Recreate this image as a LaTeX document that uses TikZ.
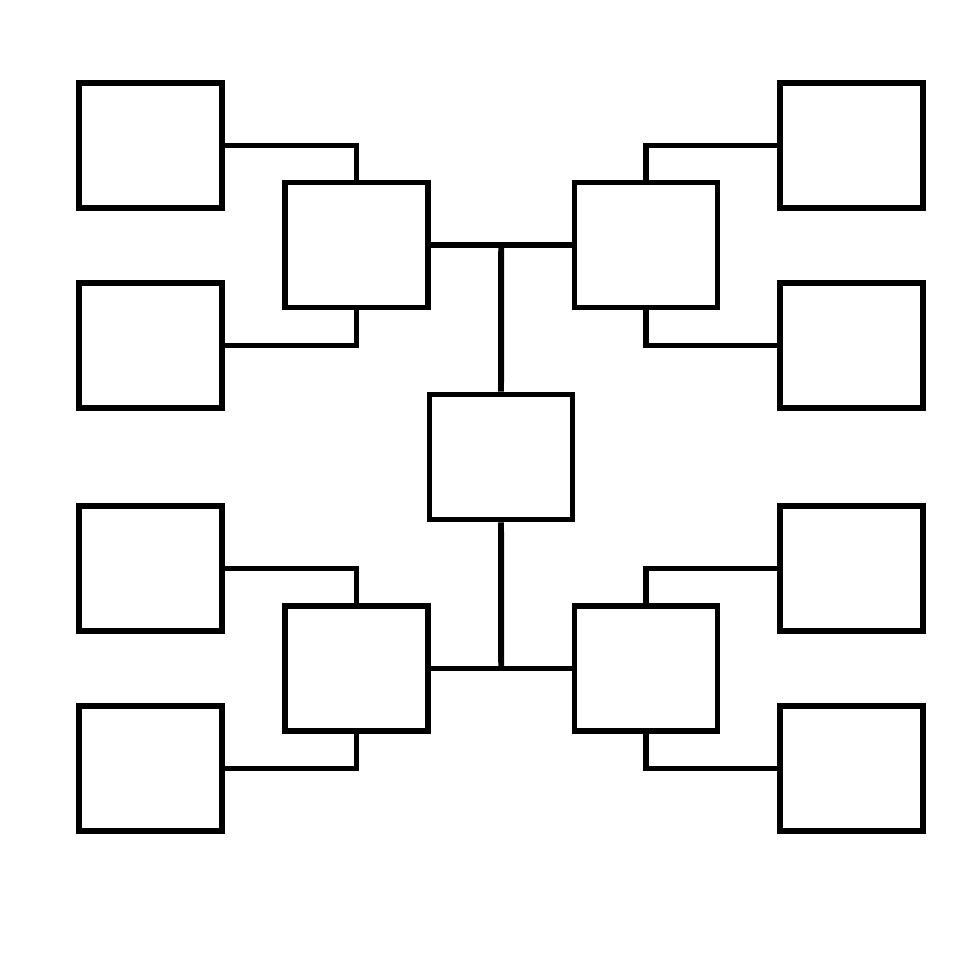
\documentclass[tikz,border=0pt]{standalone}
\usetikzlibrary{calc,positioning}

\tikzset{
    box/.style={draw, line width=1.7pt, minimum width=1.43cm, minimum height=1.25cm, inner sep=0pt},
    link/.style={line width=1.7pt}
}

\begin{document}
\begin{tikzpicture}
\useasboundingbox (0,0) rectangle (9.8,9.8);

% centre
\node[box] (mid) at (5.01,5.23) {};

% inner boxes
\node[box] (ilt) at (3.565,7.35) {};
\node[box] (irt) at (6.46,7.35) {};
\node[box] (ilb) at (3.565,3.115) {};
\node[box] (irb) at (6.46,3.115) {};

% outer boxes
\node[box] (olt1) at (1.505,8.345) {};
\node[box] (olt2) at (1.505,6.345) {};
\node[box] (olb1) at (1.505,4.115) {};
\node[box] (olb2) at (1.505,2.115) {};
\node[box] (ort1) at (8.515,8.345) {};
\node[box] (ort2) at (8.515,6.345) {};
\node[box] (orb1) at (8.515,4.115) {};
\node[box] (orb2) at (8.515,2.115) {};

\coordinate (jt) at ($(ilt.east)!0.5!(irt.west)$);
\coordinate (jb) at ($(ilb.east)!0.5!(irb.west)$);

\draw[link] (ilt) -- (irt);
\draw[link] (ilb) -- (irb);
\draw[link] (jt) -- (mid.north);
\draw[link] (mid.south) -- (jb);

\draw[link] (olt1.east) -| (ilt.north);
\draw[link] (olt2.east) -| (ilt.south);
\draw[link] (olb1.east) -| (ilb.north);
\draw[link] (olb2.east) -| (ilb.south);
\draw[link] (ort1.west) -| (irt.north);
\draw[link] (ort2.west) -| (irt.south);
\draw[link] (orb1.west) -| (irb.north);
\draw[link] (orb2.west) -| (irb.south);
\end{tikzpicture}
\end{document}
